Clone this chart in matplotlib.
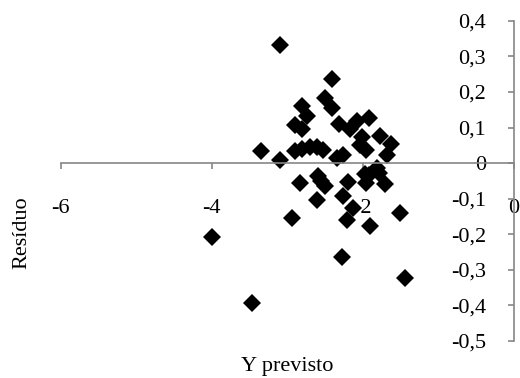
import matplotlib.pyplot as plt

plt.rcParams['font.family'] = ['Liberation Serif', 'DejaVu Serif']

# predicted Y (x) and residual (y)
y_previsto = [-3.10, -4.00, -3.47, -1.44, -2.28, -1.51, -1.90, -2.21, -2.13, -2.93,
              -2.61, -2.26, -2.83, -2.59, -2.50, -2.19, -1.95, -1.70, -1.92, -1.79,
              -2.41, -2.50, -2.41, -2.81, -2.74, -2.90, -2.81, -2.31, -2.17, -2.08,
              -1.91, -2.01, -2.03, -1.95, -1.77, -1.62, -1.68, -3.34, -3.09, -2.90,
              -2.81, -2.70, -2.61, -2.52, -2.34, -2.26, -1.97, -1.81, -2.55]
residuo = [0.331, -0.207, -0.394, -0.323, -0.263, -0.141, -0.176, -0.160, -0.127, -0.154,
           -0.104, -0.093, -0.055, -0.037, -0.065, -0.052, -0.057, -0.059, -0.034, -0.029,
           0.235, 0.182, 0.154, 0.160, 0.132, 0.107, 0.097, 0.110, 0.095, 0.119,
           0.126, 0.074, 0.051, 0.037, 0.076, 0.055, 0.022, 0.035, 0.008, 0.035,
           0.041, 0.044, 0.044, 0.037, 0.013, 0.022, -0.031, -0.015, -0.050]

x_ticks = [-6, -4, -2, 0]
y_ticks = [-0.5, -0.4, -0.3, -0.2, -0.1, 0, 0.1, 0.2, 0.3, 0.4]

def fmt(v):
    if round(v, 6) == int(round(v)):
        return str(int(round(v)))
    return ('%.1f' % v).replace('.', ',')

fig = plt.figure(figsize=(5.2, 3.78), dpi=100)
ax = fig.add_axes([0.1165, 0.098, 0.8715, 0.847])

ax.plot(y_previsto, residuo, 'D', color='black', ms=9, mew=0)

ax.set_xlim(-6, 0)
ax.set_ylim(-0.5, 0.4)

gray = '#868686'
ax.spines['top'].set_visible(False)
ax.spines['right'].set_visible(False)
ax.spines['left'].set_position(('data', 0))
ax.spines['bottom'].set_position(('data', 0))
for s in ('left', 'bottom'):
    ax.spines[s].set_color(gray)
    ax.spines[s].set_linewidth(1.2)

ax.set_xticks(x_ticks)
ax.set_xticklabels([fmt(v) for v in x_ticks])
ax.set_yticks(y_ticks)
ax.set_yticklabels([fmt(v) for v in y_ticks])
ax.tick_params(axis='x', direction='out', length=4, color=gray, width=1.2,
               labelsize=16, pad=22)
ax.tick_params(axis='y', direction='out', length=4, color=gray, width=1.2,
               labelsize=16, pad=16)

fig.text(0.552, 0.03, 'Y previsto', ha='center', va='center', fontsize=16)
fig.text(0.042, 0.385, 'Resíduo', ha='center', va='center', fontsize=16, rotation=90)

fig.savefig('out.png', dpi=100)
